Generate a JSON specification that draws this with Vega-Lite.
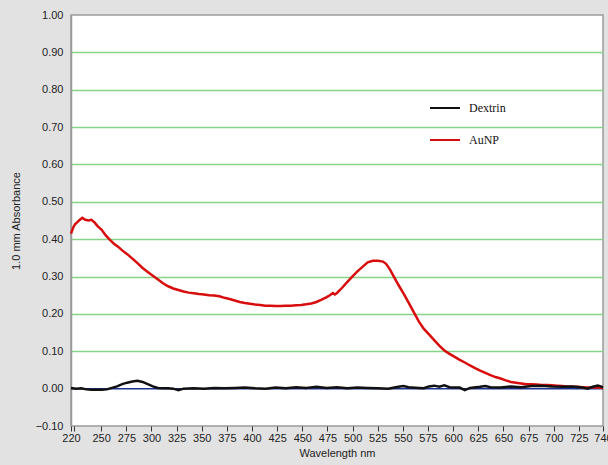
{
  "$schema": "https://vega.github.io/schema/vega-lite/v6.json",
  "width": 532,
  "height": 411,
  "autosize": {"type": "none"},
  "padding": {"left": 71, "top": 15, "right": 5, "bottom": 39},
  "background": "#e2e2e2",
  "config": {
    "view": {"fill": "white", "stroke": "#9a9a9a", "strokeWidth": 1.5},
    "axis": {"labelFont": "Liberation Sans", "titleFont": "Liberation Sans", "labelColor": "#222", "titleColor": "#222", "labelFontSize": 11, "titleFontSize": 11, "titleFontWeight": "normal"}
  },
  "datasets": {
    "spectra": [
      {"nm":220,"abs":0.415,"sample":"AuNP"},{"nm":222,"abs":0.43,"sample":"AuNP"},{"nm":224,"abs":0.44,"sample":"AuNP"},{"nm":226,"abs":0.445,"sample":"AuNP"},{"nm":228,"abs":0.45,"sample":"AuNP"},{"nm":231.2,"abs":0.457,"sample":"AuNP"},{"nm":234.2,"abs":0.452,"sample":"AuNP"},{"nm":237.3,"abs":0.45,"sample":"AuNP"},{"nm":240.3,"abs":0.452,"sample":"AuNP"},{"nm":243.4,"abs":0.445,"sample":"AuNP"},{"nm":246.4,"abs":0.435,"sample":"AuNP"},{"nm":250.5,"abs":0.425,"sample":"AuNP"},{"nm":254.6,"abs":0.41,"sample":"AuNP"},{"nm":258.7,"abs":0.398,"sample":"AuNP"},{"nm":262.7,"abs":0.388,"sample":"AuNP"},{"nm":266.8,"abs":0.38,"sample":"AuNP"},{"nm":270.9,"abs":0.37,"sample":"AuNP"},{"nm":275.9,"abs":0.36,"sample":"AuNP"},{"nm":281,"abs":0.348,"sample":"AuNP"},{"nm":286.1,"abs":0.336,"sample":"AuNP"},{"nm":291.2,"abs":0.323,"sample":"AuNP"},{"nm":296.3,"abs":0.312,"sample":"AuNP"},{"nm":301.4,"abs":0.302,"sample":"AuNP"},{"nm":306.5,"abs":0.292,"sample":"AuNP"},{"nm":311.5,"abs":0.282,"sample":"AuNP"},{"nm":316.6,"abs":0.274,"sample":"AuNP"},{"nm":321.7,"abs":0.268,"sample":"AuNP"},{"nm":326.8,"abs":0.264,"sample":"AuNP"},{"nm":331.9,"abs":0.26,"sample":"AuNP"},{"nm":337,"abs":0.257,"sample":"AuNP"},{"nm":342.1,"abs":0.255,"sample":"AuNP"},{"nm":347.2,"abs":0.253,"sample":"AuNP"},{"nm":352.2,"abs":0.252,"sample":"AuNP"},{"nm":357.3,"abs":0.25,"sample":"AuNP"},{"nm":362.4,"abs":0.249,"sample":"AuNP"},{"nm":367.5,"abs":0.247,"sample":"AuNP"},{"nm":372.6,"abs":0.243,"sample":"AuNP"},{"nm":377.7,"abs":0.24,"sample":"AuNP"},{"nm":382.8,"abs":0.236,"sample":"AuNP"},{"nm":387.8,"abs":0.232,"sample":"AuNP"},{"nm":392.9,"abs":0.229,"sample":"AuNP"},{"nm":398,"abs":0.227,"sample":"AuNP"},{"nm":403.1,"abs":0.225,"sample":"AuNP"},{"nm":408.2,"abs":0.224,"sample":"AuNP"},{"nm":413.3,"abs":0.222,"sample":"AuNP"},{"nm":418.4,"abs":0.222,"sample":"AuNP"},{"nm":423.4,"abs":0.221,"sample":"AuNP"},{"nm":428.5,"abs":0.221,"sample":"AuNP"},{"nm":433.6,"abs":0.222,"sample":"AuNP"},{"nm":438.7,"abs":0.222,"sample":"AuNP"},{"nm":443.8,"abs":0.223,"sample":"AuNP"},{"nm":448.9,"abs":0.224,"sample":"AuNP"},{"nm":454,"abs":0.226,"sample":"AuNP"},{"nm":459,"abs":0.228,"sample":"AuNP"},{"nm":464.1,"abs":0.232,"sample":"AuNP"},{"nm":469.2,"abs":0.238,"sample":"AuNP"},{"nm":474.3,"abs":0.245,"sample":"AuNP"},{"nm":477.4,"abs":0.25,"sample":"AuNP"},{"nm":480.4,"abs":0.256,"sample":"AuNP"},{"nm":482.4,"abs":0.252,"sample":"AuNP"},{"nm":484.5,"abs":0.256,"sample":"AuNP"},{"nm":489.6,"abs":0.27,"sample":"AuNP"},{"nm":494.6,"abs":0.285,"sample":"AuNP"},{"nm":499.7,"abs":0.3,"sample":"AuNP"},{"nm":504.8,"abs":0.314,"sample":"AuNP"},{"nm":509.9,"abs":0.326,"sample":"AuNP"},{"nm":515,"abs":0.338,"sample":"AuNP"},{"nm":520.1,"abs":0.342,"sample":"AuNP"},{"nm":525.2,"abs":0.342,"sample":"AuNP"},{"nm":530.2,"abs":0.34,"sample":"AuNP"},{"nm":533.3,"abs":0.334,"sample":"AuNP"},{"nm":537.4,"abs":0.318,"sample":"AuNP"},{"nm":541.4,"abs":0.298,"sample":"AuNP"},{"nm":545.5,"abs":0.278,"sample":"AuNP"},{"nm":550.6,"abs":0.255,"sample":"AuNP"},{"nm":555.7,"abs":0.23,"sample":"AuNP"},{"nm":560.8,"abs":0.205,"sample":"AuNP"},{"nm":565.8,"abs":0.18,"sample":"AuNP"},{"nm":570.9,"abs":0.16,"sample":"AuNP"},{"nm":576,"abs":0.145,"sample":"AuNP"},{"nm":581.1,"abs":0.13,"sample":"AuNP"},{"nm":586.2,"abs":0.115,"sample":"AuNP"},{"nm":591.3,"abs":0.102,"sample":"AuNP"},{"nm":596.4,"abs":0.093,"sample":"AuNP"},{"nm":601.5,"abs":0.085,"sample":"AuNP"},{"nm":606.5,"abs":0.077,"sample":"AuNP"},{"nm":611.6,"abs":0.07,"sample":"AuNP"},{"nm":616.7,"abs":0.062,"sample":"AuNP"},{"nm":621.8,"abs":0.055,"sample":"AuNP"},{"nm":626.9,"abs":0.048,"sample":"AuNP"},{"nm":632,"abs":0.042,"sample":"AuNP"},{"nm":637.1,"abs":0.036,"sample":"AuNP"},{"nm":642.1,"abs":0.031,"sample":"AuNP"},{"nm":647.2,"abs":0.027,"sample":"AuNP"},{"nm":652.3,"abs":0.022,"sample":"AuNP"},{"nm":657.4,"abs":0.018,"sample":"AuNP"},{"nm":662.5,"abs":0.016,"sample":"AuNP"},{"nm":667.6,"abs":0.014,"sample":"AuNP"},{"nm":672.7,"abs":0.012,"sample":"AuNP"},{"nm":677.7,"abs":0.012,"sample":"AuNP"},{"nm":682.8,"abs":0.011,"sample":"AuNP"},{"nm":687.9,"abs":0.01,"sample":"AuNP"},{"nm":693,"abs":0.01,"sample":"AuNP"},{"nm":698.1,"abs":0.009,"sample":"AuNP"},{"nm":703.2,"abs":0.008,"sample":"AuNP"},{"nm":708.3,"abs":0.007,"sample":"AuNP"},{"nm":713.3,"abs":0.006,"sample":"AuNP"},{"nm":718.4,"abs":0.005,"sample":"AuNP"},{"nm":723.5,"abs":0.005,"sample":"AuNP"},{"nm":728.6,"abs":0.004,"sample":"AuNP"},{"nm":733.7,"abs":0.003,"sample":"AuNP"},{"nm":738.8,"abs":0.003,"sample":"AuNP"},{"nm":743.9,"abs":0.003,"sample":"AuNP"},{"nm":749,"abs":0.002,"sample":"AuNP"},
      {"nm":220,"abs":0.002,"sample":"Dextrin"},{"nm":225.1,"abs":0.0,"sample":"Dextrin"},{"nm":230.2,"abs":0.001,"sample":"Dextrin"},{"nm":235.3,"abs":-0.002,"sample":"Dextrin"},{"nm":240.3,"abs":-0.003,"sample":"Dextrin"},{"nm":245.4,"abs":-0.003,"sample":"Dextrin"},{"nm":250.5,"abs":-0.003,"sample":"Dextrin"},{"nm":255.6,"abs":-0.002,"sample":"Dextrin"},{"nm":260.7,"abs":0.002,"sample":"Dextrin"},{"nm":265.8,"abs":0.006,"sample":"Dextrin"},{"nm":270.9,"abs":0.012,"sample":"Dextrin"},{"nm":275.9,"abs":0.016,"sample":"Dextrin"},{"nm":281,"abs":0.019,"sample":"Dextrin"},{"nm":286.1,"abs":0.021,"sample":"Dextrin"},{"nm":291.2,"abs":0.018,"sample":"Dextrin"},{"nm":296.3,"abs":0.012,"sample":"Dextrin"},{"nm":301.4,"abs":0.006,"sample":"Dextrin"},{"nm":306.5,"abs":0.002,"sample":"Dextrin"},{"nm":311.5,"abs":0.001,"sample":"Dextrin"},{"nm":316.6,"abs":0.001,"sample":"Dextrin"},{"nm":321.7,"abs":0.0,"sample":"Dextrin"},{"nm":326.8,"abs":-0.004,"sample":"Dextrin"},{"nm":331.9,"abs":0.0,"sample":"Dextrin"},{"nm":342.1,"abs":0.001,"sample":"Dextrin"},{"nm":352.2,"abs":0.0,"sample":"Dextrin"},{"nm":362.4,"abs":0.002,"sample":"Dextrin"},{"nm":372.6,"abs":0.001,"sample":"Dextrin"},{"nm":382.8,"abs":0.002,"sample":"Dextrin"},{"nm":392.9,"abs":0.003,"sample":"Dextrin"},{"nm":403.1,"abs":0.001,"sample":"Dextrin"},{"nm":413.3,"abs":0.0,"sample":"Dextrin"},{"nm":423.4,"abs":0.003,"sample":"Dextrin"},{"nm":433.6,"abs":0.001,"sample":"Dextrin"},{"nm":443.8,"abs":0.004,"sample":"Dextrin"},{"nm":454,"abs":0.002,"sample":"Dextrin"},{"nm":464.1,"abs":0.005,"sample":"Dextrin"},{"nm":474.3,"abs":0.002,"sample":"Dextrin"},{"nm":484.5,"abs":0.004,"sample":"Dextrin"},{"nm":494.6,"abs":0.001,"sample":"Dextrin"},{"nm":504.8,"abs":0.003,"sample":"Dextrin"},{"nm":515,"abs":0.002,"sample":"Dextrin"},{"nm":525.2,"abs":0.001,"sample":"Dextrin"},{"nm":535.3,"abs":0.0,"sample":"Dextrin"},{"nm":545.5,"abs":0.005,"sample":"Dextrin"},{"nm":550.6,"abs":0.007,"sample":"Dextrin"},{"nm":555.7,"abs":0.004,"sample":"Dextrin"},{"nm":565.8,"abs":0.002,"sample":"Dextrin"},{"nm":570.9,"abs":0.001,"sample":"Dextrin"},{"nm":576,"abs":0.006,"sample":"Dextrin"},{"nm":581.1,"abs":0.008,"sample":"Dextrin"},{"nm":586.2,"abs":0.005,"sample":"Dextrin"},{"nm":591.3,"abs":0.009,"sample":"Dextrin"},{"nm":596.4,"abs":0.004,"sample":"Dextrin"},{"nm":606.5,"abs":0.003,"sample":"Dextrin"},{"nm":611.6,"abs":-0.004,"sample":"Dextrin"},{"nm":616.7,"abs":0.002,"sample":"Dextrin"},{"nm":626.9,"abs":0.005,"sample":"Dextrin"},{"nm":632,"abs":0.007,"sample":"Dextrin"},{"nm":637.1,"abs":0.004,"sample":"Dextrin"},{"nm":647.2,"abs":0.003,"sample":"Dextrin"},{"nm":657.4,"abs":0.006,"sample":"Dextrin"},{"nm":667.6,"abs":0.004,"sample":"Dextrin"},{"nm":677.7,"abs":0.007,"sample":"Dextrin"},{"nm":687.9,"abs":0.008,"sample":"Dextrin"},{"nm":698.1,"abs":0.006,"sample":"Dextrin"},{"nm":708.3,"abs":0.005,"sample":"Dextrin"},{"nm":718.4,"abs":0.006,"sample":"Dextrin"},{"nm":728.6,"abs":0.003,"sample":"Dextrin"},{"nm":733.7,"abs":0.0,"sample":"Dextrin"},{"nm":738.8,"abs":0.005,"sample":"Dextrin"},{"nm":743.9,"abs":0.008,"sample":"Dextrin"},{"nm":749,"abs":0.004,"sample":"Dextrin"}
    ]
  },
  "layer": [
    {
      "data": {"values": [{"level": 0}]},
      "mark": {"type": "rule", "color": "#1c3290", "strokeWidth": 1.5},
      "encoding": {
        "y": {"field": "level", "type": "quantitative"}
      }
    },
    {
      "data": {"name": "spectra"},
      "mark": {"type": "line", "strokeWidth": 2.5, "interpolate": "linear"},
      "encoding": {
        "x": {
          "field": "nm", "type": "quantitative",
          "scale": {"domain": [220, 749], "nice": false, "zero": false},
          "axis": {
            "title": "Wavelength nm",
            "values": [220,223,250,275,300,325,350,375,400,425,450,475,500,525,550,575,600,625,650,675,700,725,749],
            "labelExpr": "datum.value == 223 ? '' : (datum.value == 749 ? '740' : datum.label)",
            "format": "d", "tickCount": 40,
            "grid": false, "domain": false,
            "tickColor": "#333", "tickSize": 5, "labelPadding": 1, "titlePadding": 4,
            "labelOverlap": false, "labelFlush": false, "labelBound": false
          }
        },
        "y": {
          "field": "abs", "type": "quantitative",
          "scale": {"domain": [-0.1, 1.0], "nice": false, "zero": false},
          "axis": {
            "title": "1.0 mm Absorbance",
            "values": [-0.1,0,0.1,0.2,0.3,0.4,0.5,0.6,0.7,0.8,0.9,0.99999],
            "format": ".2f", "tickCount": 30,
            "labelOverlap": false, "labelFlush": false,
            "ticks": false, "labelPadding": 8, "titlePadding": 14,
            "domainColor": "#9a9a9a", "domainWidth": 1.5,
            "grid": true,
            "gridColor": {"condition": {"test": "datum.value > 0.05 && datum.value < 0.95", "value": "#86d486"}, "value": "transparent"},
            "gridWidth": 1.5
          }
        },
        "color": {
          "field": "sample", "type": "nominal",
          "scale": {"domain": ["Dextrin", "AuNP"], "range": ["#111111", "#d80d0d"]},
          "legend": {
            "title": null, "orient": "none", "legendX": 358, "legendY": 77,
            "symbolType": "stroke", "symbolSize": 900, "symbolStrokeWidth": 2,
            "labelFont": "Liberation Serif", "labelFontSize": 12, "labelColor": "#111",
            "rowPadding": 10, "labelOffset": 8
          }
        },
        "order": {"field": "nm", "type": "quantitative"}
      }
    }
  ]
}
